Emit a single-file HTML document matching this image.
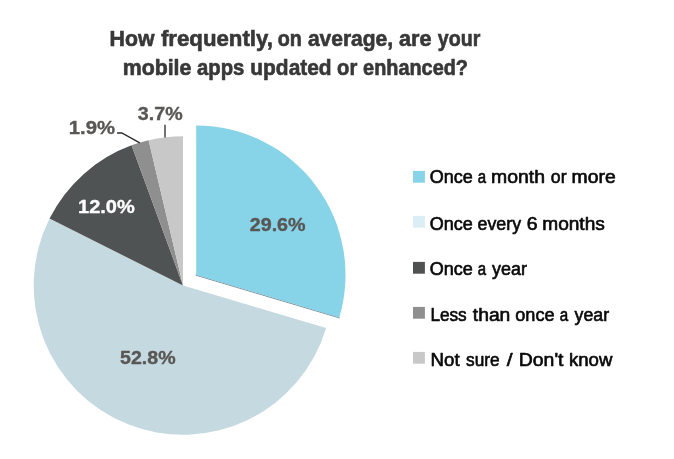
<!DOCTYPE html>
<html><head><meta charset="utf-8"><title>Chart</title>
<style>
html,body{margin:0;padding:0;background:#fff;}
svg{display:block;font-family:"Liberation Sans",sans-serif;}
</style></head>
<body>
<svg width="674" height="459" viewBox="0 0 674 459">
<defs><filter id="soft" x="-5%" y="-5%" width="110%" height="110%"><feGaussianBlur stdDeviation="0.45"/></filter><filter id="soft2" x="-5%" y="-5%" width="110%" height="110%"><feGaussianBlur stdDeviation="0.3"/></filter></defs>
<rect width="674" height="459" fill="#ffffff"/>
<g filter="url(#soft)"><path d="M183.00,285.50 L326.11,328.05 A149.3,149.3 0 1 1 49.55,218.56 Z" fill="#c5d9e0"/>
<path d="M183.00,285.50 L49.55,218.56 A149.3,149.3 0 0 1 131.54,145.35 Z" fill="#505252"/>
<path d="M183.00,285.50 L131.54,145.35 A149.3,149.3 0 0 1 148.60,140.22 Z" fill="#8f8f8f"/>
<path d="M183.00,285.50 L148.60,140.22 A149.3,149.3 0 0 1 183.00,136.20 Z" fill="#c8c8c8"/></g>
<g filter="url(#soft2)"><path d="M196.00,275.25 L339.21,317.80" stroke="#6e8088" stroke-width="0.9" fill="none" stroke-linecap="round"/>
<path d="M196.20,274.90 L196.20,125.60 A149.3,149.3 0 0 1 339.31,317.45 Z" fill="#87d3e8"/></g>
<path d="M165,124.7 L165,137.5" stroke="#444" stroke-width="1.5" fill="none"/>
<path d="M117.1,133 L121.8,133 L139.8,142.9" stroke="#2a2a2a" stroke-width="1.4" fill="none"/>
<text y="46.2" font-weight="bold" fill="#383838" stroke="#383838" stroke-width="0.65" stroke-linejoin="round"><tspan x="109.60" font-size="21.8" textLength="44.80" lengthAdjust="spacingAndGlyphs">How</tspan> <tspan x="160.88" font-size="22.6" textLength="112.01" lengthAdjust="spacingAndGlyphs">frequently,</tspan> <tspan x="277.71" font-size="22.6" textLength="24.12" lengthAdjust="spacingAndGlyphs">on</tspan> <tspan x="307.90" font-size="22.6" textLength="85.22" lengthAdjust="spacingAndGlyphs">average,</tspan> <tspan x="398.99" font-size="22.6" textLength="32.43" lengthAdjust="spacingAndGlyphs">are</tspan> <tspan x="437.82" font-size="22.6" textLength="42.53" lengthAdjust="spacingAndGlyphs">your</tspan></text>
<text y="74.5" font-weight="bold" fill="#383838" stroke="#383838" stroke-width="0.65" stroke-linejoin="round"><tspan x="122.69" font-size="22.6" textLength="68.71" lengthAdjust="spacingAndGlyphs">mobile</tspan> <tspan x="197.01" font-size="22.6" textLength="47.29" lengthAdjust="spacingAndGlyphs">apps</tspan> <tspan x="250.35" font-size="22.6" textLength="81.27" lengthAdjust="spacingAndGlyphs">updated</tspan> <tspan x="337.09" font-size="22.6" textLength="20.17" lengthAdjust="spacingAndGlyphs">or</tspan> <tspan x="363.10" font-size="22.6" textLength="104.93" lengthAdjust="spacingAndGlyphs">enhanced?</tspan></text>
<text y="230.9" font-weight="bold" fill="#595755" stroke="#595755" stroke-width="0.35" stroke-linejoin="round"><tspan x="249.76" font-size="17.8" textLength="55.84" lengthAdjust="spacingAndGlyphs">29.6%</tspan></text>
<text y="364.0" font-weight="bold" fill="#595755" stroke="#595755" stroke-width="0.35" stroke-linejoin="round"><tspan x="120.07" font-size="17.8" textLength="55.53" lengthAdjust="spacingAndGlyphs">52.8%</tspan></text>
<text y="212.8" font-weight="bold" fill="#ffffff" stroke="#ffffff" stroke-width="0.35" stroke-linejoin="round"><tspan x="78.03" font-size="17.8" textLength="56.68" lengthAdjust="spacingAndGlyphs">12.0%</tspan></text>
<text y="134.0" font-weight="bold" fill="#595755" stroke="#595755" stroke-width="0.35" stroke-linejoin="round"><tspan x="68.81" font-size="17.8" textLength="46.20" lengthAdjust="spacingAndGlyphs">1.9%</tspan></text>
<text y="120.1" font-weight="bold" fill="#595755" stroke="#595755" stroke-width="0.35" stroke-linejoin="round"><tspan x="137.87" font-size="17.8" textLength="44.73" lengthAdjust="spacingAndGlyphs">3.7%</tspan></text>
<text y="183.4" font-weight="normal" fill="#0a0a0a" stroke="#0a0a0a" stroke-width="0.65" stroke-linejoin="round"><tspan x="429.78" font-size="18.3" textLength="43.02" lengthAdjust="spacingAndGlyphs">Once</tspan> <tspan x="477.66" font-size="18.3" textLength="8.32" lengthAdjust="spacingAndGlyphs">a</tspan> <tspan x="491.11" font-size="18.3" textLength="53.95" lengthAdjust="spacingAndGlyphs">month</tspan> <tspan x="550.87" font-size="18.3" textLength="15.69" lengthAdjust="spacingAndGlyphs">or</tspan> <tspan x="571.62" font-size="18.3" textLength="44.04" lengthAdjust="spacingAndGlyphs">more</tspan></text>
<text y="229.6" font-weight="normal" fill="#0a0a0a" stroke="#0a0a0a" stroke-width="0.65" stroke-linejoin="round"><tspan x="429.78" font-size="18.3" textLength="43.02" lengthAdjust="spacingAndGlyphs">Once</tspan> <tspan x="477.57" font-size="18.3" textLength="43.51" lengthAdjust="spacingAndGlyphs">every</tspan> <tspan x="526.81" font-size="18.3" textLength="10.86" lengthAdjust="spacingAndGlyphs">6</tspan> <tspan x="542.23" font-size="18.3" textLength="62.64" lengthAdjust="spacingAndGlyphs">months</tspan></text>
<text y="274.6" font-weight="normal" fill="#0a0a0a" stroke="#0a0a0a" stroke-width="0.65" stroke-linejoin="round"><tspan x="429.78" font-size="18.3" textLength="43.02" lengthAdjust="spacingAndGlyphs">Once</tspan> <tspan x="477.66" font-size="18.3" textLength="8.32" lengthAdjust="spacingAndGlyphs">a</tspan> <tspan x="492.12" font-size="18.3" textLength="34.84" lengthAdjust="spacingAndGlyphs">year</tspan></text>
<text y="320.7" font-weight="normal" fill="#0a0a0a" stroke="#0a0a0a" stroke-width="0.65" stroke-linejoin="round"><tspan x="430.38" font-size="18.3" textLength="36.33" lengthAdjust="spacingAndGlyphs">Less</tspan> <tspan x="472.82" font-size="18.3" textLength="37.53" lengthAdjust="spacingAndGlyphs">than</tspan> <tspan x="515.26" font-size="18.3" textLength="39.25" lengthAdjust="spacingAndGlyphs">once</tspan> <tspan x="559.85" font-size="18.3" textLength="8.43" lengthAdjust="spacingAndGlyphs">a</tspan> <tspan x="574.62" font-size="18.3" textLength="34.54" lengthAdjust="spacingAndGlyphs">year</tspan></text>
<text y="365.9" font-weight="normal" fill="#0a0a0a" stroke="#0a0a0a" stroke-width="0.65" stroke-linejoin="round"><tspan x="430.57" font-size="18.3" textLength="29.04" lengthAdjust="spacingAndGlyphs">Not</tspan> <tspan x="466.06" font-size="18.3" textLength="33.52" lengthAdjust="spacingAndGlyphs">sure</tspan> <tspan x="506.89" font-size="18.3" textLength="5.85" lengthAdjust="spacingAndGlyphs">/</tspan> <tspan x="518.81" font-size="18.3" textLength="44.70" lengthAdjust="spacingAndGlyphs">Don't</tspan> <tspan x="568.96" font-size="18.3" textLength="43.38" lengthAdjust="spacingAndGlyphs">know</tspan></text>
<rect x="413" y="170.9" width="11.9" height="11.8" fill="#87d3e8"/>
<rect x="413" y="215.9" width="11.9" height="11.8" fill="#dbeef5"/>
<rect x="413" y="261.9" width="11.9" height="11.8" fill="#505252"/>
<rect x="413" y="306.9" width="11.9" height="11.8" fill="#8f8f8f"/>
<rect x="413" y="351.9" width="11.9" height="11.8" fill="#c8c8c8"/>
</svg>
</body></html>
